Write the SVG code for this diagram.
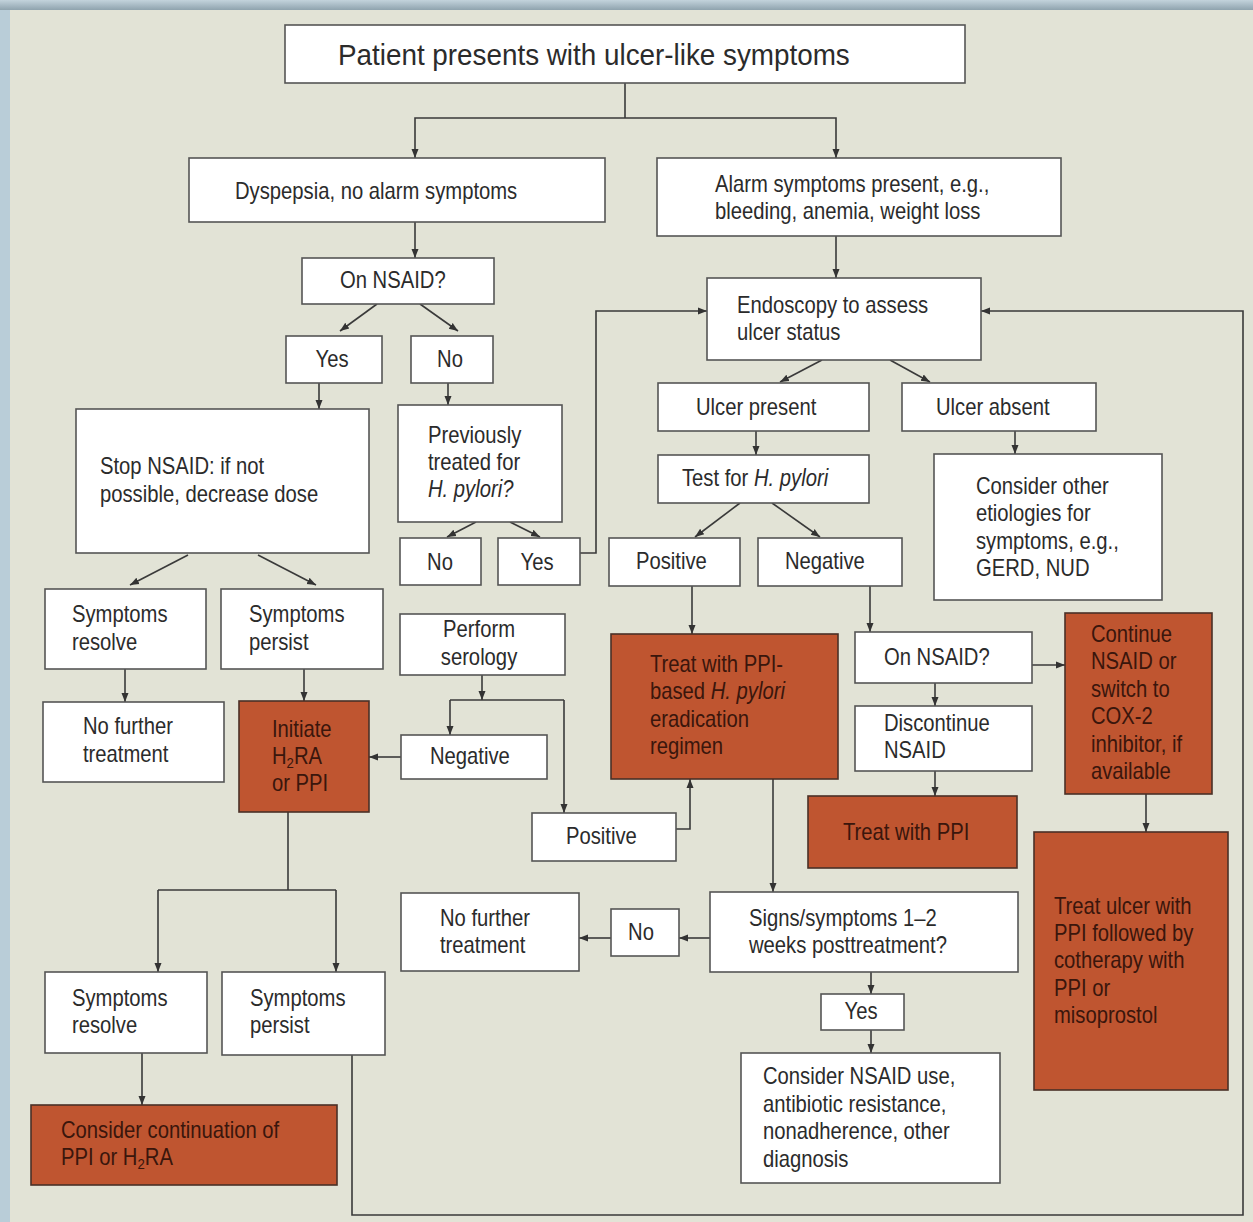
<svg xmlns="http://www.w3.org/2000/svg" width="1253" height="1222" viewBox="0 0 1253 1222">
<defs>
<linearGradient id="topbar" x1="0" y1="0" x2="0" y2="1">
<stop offset="0" stop-color="#c3d3dc"/><stop offset="1" stop-color="#8fa3ae"/>
</linearGradient>
<marker id="ah" markerWidth="10" markerHeight="10" refX="9" refY="5" orient="auto" markerUnits="userSpaceOnUse">
<path d="M0,1.5 L9,5 L0,8.5 z" fill="#333"/>
</marker>
<style>
.w{fill:#fff;stroke:#555;stroke-width:1.6}
.o{fill:#bf5530;stroke:#4a3027;stroke-width:1.6}
.t{font-family:"Liberation Sans",Arial,sans-serif;font-size:23px;fill:#2b2b2b}
.to{font-family:"Liberation Sans",Arial,sans-serif;font-size:23px;fill:#3a160c}
.big{font-size:29px}
.sub{font-size:15px}
.c{text-anchor:middle}
.i{font-style:italic}
.cn path{fill:none;stroke:#3a3a3a;stroke-width:1.6}
.cn .a{marker-end:url(#ah)}
</style>
</defs>
<rect x="0" y="0" width="1253" height="1222" fill="#b9cdd8"/>
<rect x="0" y="0" width="1253" height="10" fill="url(#topbar)"/>
<rect x="10" y="10" width="1243" height="1212" fill="#e2e3d6"/>

<g id="connectors" class="cn">
<path d="M625,83 V118"/>
<path class="a" d="M625,118 H415 V158"/>
<path class="a" d="M625,118 H836 V158"/>
<path class="a" d="M415,222 V258"/>
<path class="a" d="M377,304 L340,331"/>
<path class="a" d="M420,304 L458,331"/>
<path class="a" d="M319,383 V409"/>
<path class="a" d="M448,383 V405"/>
<path class="a" d="M188,555 L130,585"/>
<path class="a" d="M258,555 L316,585"/>
<path class="a" d="M476,522 L447,537"/>
<path class="a" d="M510,522 L540,537"/>
<path class="a" d="M580,553 H596 V311 H707"/>
<path class="a" d="M836,236 V278"/>
<path class="a" d="M822,360 L780,382"/>
<path class="a" d="M890,360 L930,382"/>
<path class="a" d="M756,431 V455"/>
<path class="a" d="M1015,431 V454"/>
<path class="a" d="M740,503 L695,537"/>
<path class="a" d="M772,503 L820,537"/>
<path class="a" d="M692,586 V634"/>
<path class="a" d="M870,586 V632"/>
<path class="a" d="M1032,665 H1065"/>
<path class="a" d="M935,683 V706"/>
<path class="a" d="M935,771 V796"/>
<path class="a" d="M1146,794 V832"/>
<path class="a" d="M125,669 V702"/>
<path class="a" d="M304,669 V701"/>
<path class="a" d="M482,675 V700"/>
<path d="M450,700 H564"/>
<path class="a" d="M450,700 V735"/>
<path class="a" d="M564,700 V813"/>
<path class="a" d="M401,757 H369"/>
<path class="a" d="M676,829 H690 V779"/>
<path class="a" d="M773,779 V892"/>
<path class="a" d="M710,938 H679"/>
<path class="a" d="M611,938 H579"/>
<path class="a" d="M871,972 V994"/>
<path class="a" d="M871,1030 V1053"/>
<path d="M288,812 V890"/>
<path d="M158,890 H336"/>
<path class="a" d="M158,890 V972"/>
<path class="a" d="M336,890 V972"/>
<path class="a" d="M142,1053 V1105"/>
<path class="a" d="M352,1055 V1215 H1243 V311 H981"/>
</g>

<g id="n-start"><rect class="w" x="285" y="25" width="680" height="58"/>
<text class="t big" transform="translate(338,65) scale(.96,1)">Patient presents with ulcer-like symptoms</text></g>

<g id="n-dyspepsia"><rect class="w" x="189" y="158" width="416" height="64"/>
<text class="t" transform="translate(235,199) scale(.88,1)">Dyspepsia, no alarm symptoms</text></g>

<g id="n-alarm"><rect class="w" x="657" y="158" width="404" height="78"/>
<text class="t" transform="translate(715,192) scale(.88,1)"><tspan x="0">Alarm symptoms present, e.g.,</tspan><tspan x="0" dy="27">bleeding, anemia, weight loss</tspan></text></g>

<g id="n-onnsaid1"><rect class="w" x="302" y="258" width="192" height="46"/>
<text class="t" transform="translate(340,288) scale(.88,1)">On NSAID?</text></g>

<g id="n-yes1"><rect class="w" x="286" y="336" width="96" height="47"/>
<text class="t c" transform="translate(332,367) scale(.88,1)">Yes</text></g>

<g id="n-no1"><rect class="w" x="411" y="336" width="82" height="47"/>
<text class="t c" transform="translate(450,367) scale(.88,1)">No</text></g>

<g id="n-stopnsaid"><rect class="w" x="76" y="409" width="293" height="144"/>
<text class="t" transform="translate(100,474) scale(.88,1)"><tspan x="0">Stop NSAID: if not</tspan><tspan x="0" dy="28">possible, decrease dose</tspan></text></g>

<g id="n-prevtreated"><rect class="w" x="398" y="405" width="164" height="117"/>
<text class="t" transform="translate(428,443) scale(.88,1)"><tspan x="0">Previously</tspan><tspan x="0" dy="27">treated for</tspan><tspan x="0" dy="27" class="i">H. pylori?</tspan></text></g>

<g id="n-no2"><rect class="w" x="400" y="538" width="81" height="47"/>
<text class="t c" transform="translate(440,570) scale(.88,1)">No</text></g>

<g id="n-yes2"><rect class="w" x="498" y="538" width="82" height="47"/>
<text class="t c" transform="translate(537,570) scale(.88,1)">Yes</text></g>

<g id="n-endoscopy"><rect class="w" x="707" y="278" width="274" height="82"/>
<text class="t" transform="translate(737,313) scale(.88,1)"><tspan x="0">Endoscopy to assess</tspan><tspan x="0" dy="27">ulcer status</tspan></text></g>

<g id="n-ulcerpresent"><rect class="w" x="658" y="383" width="211" height="48"/>
<text class="t" transform="translate(696,415) scale(.88,1)">Ulcer present</text></g>

<g id="n-ulcerabsent"><rect class="w" x="902" y="383" width="194" height="48"/>
<text class="t" transform="translate(936,415) scale(.88,1)">Ulcer absent</text></g>

<g id="n-testhp"><rect class="w" x="658" y="455" width="211" height="48"/>
<text class="t" transform="translate(682,486) scale(.88,1)">Test for <tspan class="i">H. pylori</tspan></text></g>

<g id="n-otheretiol"><rect class="w" x="934" y="454" width="228" height="146"/>
<text class="t" transform="translate(976,494) scale(.88,1)"><tspan x="0">Consider other</tspan><tspan x="0" dy="27.5">etiologies for</tspan><tspan x="0" dy="27.5">symptoms, e.g.,</tspan><tspan x="0" dy="27.5">GERD, NUD</tspan></text></g>

<g id="n-positive1"><rect class="w" x="609" y="538" width="131" height="48"/>
<text class="t" transform="translate(636,569) scale(.88,1)">Positive</text></g>

<g id="n-negative1"><rect class="w" x="758" y="538" width="144" height="48"/>
<text class="t" transform="translate(785,569) scale(.88,1)">Negative</text></g>

<g id="n-sympresolve1"><rect class="w" x="45" y="589" width="161" height="80"/>
<text class="t" transform="translate(72,622) scale(.88,1)"><tspan x="0">Symptoms</tspan><tspan x="0" dy="28">resolve</tspan></text></g>

<g id="n-symppersist1"><rect class="w" x="221" y="589" width="162" height="80"/>
<text class="t" transform="translate(249,622) scale(.88,1)"><tspan x="0">Symptoms</tspan><tspan x="0" dy="28">persist</tspan></text></g>

<g id="n-serology"><rect class="w" x="400" y="614" width="165" height="61"/>
<text class="t c" transform="translate(479,637) scale(.88,1)"><tspan x="0">Perform</tspan><tspan x="0" dy="28">serology</tspan></text></g>

<g id="n-eradication"><rect class="o" x="611" y="634" width="227" height="145"/>
<text class="to" transform="translate(650,672) scale(.88,1)"><tspan x="0">Treat with PPI-</tspan><tspan x="0" dy="27.5">based <tspan class="i">H. pylori</tspan></tspan><tspan x="0" dy="27.5">eradication</tspan><tspan x="0" dy="27.5">regimen</tspan></text></g>

<g id="n-onnsaid2"><rect class="w" x="855" y="632" width="177" height="51"/>
<text class="t" transform="translate(884,665) scale(.88,1)">On NSAID?</text></g>

<g id="n-continue"><rect class="o" x="1065" y="613" width="147" height="181"/>
<text class="to" transform="translate(1091,642) scale(.88,1)"><tspan x="0">Continue</tspan><tspan x="0" dy="27.4">NSAID or</tspan><tspan x="0" dy="27.4">switch to</tspan><tspan x="0" dy="27.4">COX-2</tspan><tspan x="0" dy="27.4">inhibitor, if</tspan><tspan x="0" dy="27.4">available</tspan></text></g>

<g id="n-nofurther1"><rect class="w" x="43" y="702" width="181" height="80"/>
<text class="t" transform="translate(83,734) scale(.88,1)"><tspan x="0">No further</tspan><tspan x="0" dy="28">treatment</tspan></text></g>

<g id="n-initiate"><rect class="o" x="239" y="701" width="130" height="111"/>
<text class="to" transform="translate(272,737) scale(.88,1)"><tspan x="0">Initiate</tspan><tspan x="0" dy="27">H<tspan class="sub" dy="4">2</tspan><tspan dy="-4">RA</tspan></tspan><tspan x="0" dy="27">or PPI</tspan></text></g>

<g id="n-negative2"><rect class="w" x="401" y="735" width="146" height="44"/>
<text class="t" transform="translate(430,764) scale(.88,1)">Negative</text></g>

<g id="n-discontinue"><rect class="w" x="855" y="706" width="177" height="65"/>
<text class="t" transform="translate(884,731) scale(.88,1)"><tspan x="0">Discontinue</tspan><tspan x="0" dy="27">NSAID</tspan></text></g>

<g id="n-treatppi"><rect class="o" x="808" y="796" width="209" height="72"/>
<text class="to" transform="translate(843,840) scale(.88,1)">Treat with PPI</text></g>

<g id="n-positive2"><rect class="w" x="532" y="813" width="144" height="48"/>
<text class="t" transform="translate(566,844) scale(.88,1)">Positive</text></g>

<g id="n-treatulcer"><rect class="o" x="1034" y="832" width="194" height="258"/>
<text class="to" transform="translate(1054,914) scale(.88,1)"><tspan x="0">Treat ulcer with</tspan><tspan x="0" dy="27.2">PPI followed by</tspan><tspan x="0" dy="27.2">cotherapy with</tspan><tspan x="0" dy="27.2">PPI or</tspan><tspan x="0" dy="27.2">misoprostol</tspan></text></g>

<g id="n-signs"><rect class="w" x="710" y="892" width="308" height="80"/>
<text class="t" transform="translate(749,926) scale(.88,1)"><tspan x="0">Signs/symptoms 1–2</tspan><tspan x="0" dy="27">weeks posttreatment?</tspan></text></g>

<g id="n-no3"><rect class="w" x="611" y="909" width="68" height="47"/>
<text class="t c" transform="translate(641,940) scale(.88,1)">No</text></g>

<g id="n-nofurther2"><rect class="w" x="401" y="893" width="178" height="78"/>
<text class="t" transform="translate(440,926) scale(.88,1)"><tspan x="0">No further</tspan><tspan x="0" dy="27">treatment</tspan></text></g>

<g id="n-yes3"><rect class="w" x="821" y="994" width="83" height="36"/>
<text class="t c" transform="translate(861,1019) scale(.88,1)">Yes</text></g>

<g id="n-considernsaid"><rect class="w" x="741" y="1053" width="259" height="130"/>
<text class="t" transform="translate(763,1084) scale(.88,1)"><tspan x="0">Consider NSAID use,</tspan><tspan x="0" dy="27.7">antibiotic resistance,</tspan><tspan x="0" dy="27.7">nonadherence, other</tspan><tspan x="0" dy="27.7">diagnosis</tspan></text></g>

<g id="n-sympresolve2"><rect class="w" x="45" y="972" width="162" height="81"/>
<text class="t" transform="translate(72,1006) scale(.88,1)"><tspan x="0">Symptoms</tspan><tspan x="0" dy="27">resolve</tspan></text></g>

<g id="n-symppersist2"><rect class="w" x="222" y="972" width="163" height="83"/>
<text class="t" transform="translate(250,1006) scale(.88,1)"><tspan x="0">Symptoms</tspan><tspan x="0" dy="27">persist</tspan></text></g>

<g id="n-continuation"><rect class="o" x="31" y="1105" width="306" height="80"/>
<text class="to" transform="translate(61,1138) scale(.88,1)"><tspan x="0">Consider continuation of</tspan><tspan x="0" dy="27">PPI or H<tspan class="sub" dy="4">2</tspan><tspan dy="-4">RA</tspan></tspan></text></g>
</svg>
